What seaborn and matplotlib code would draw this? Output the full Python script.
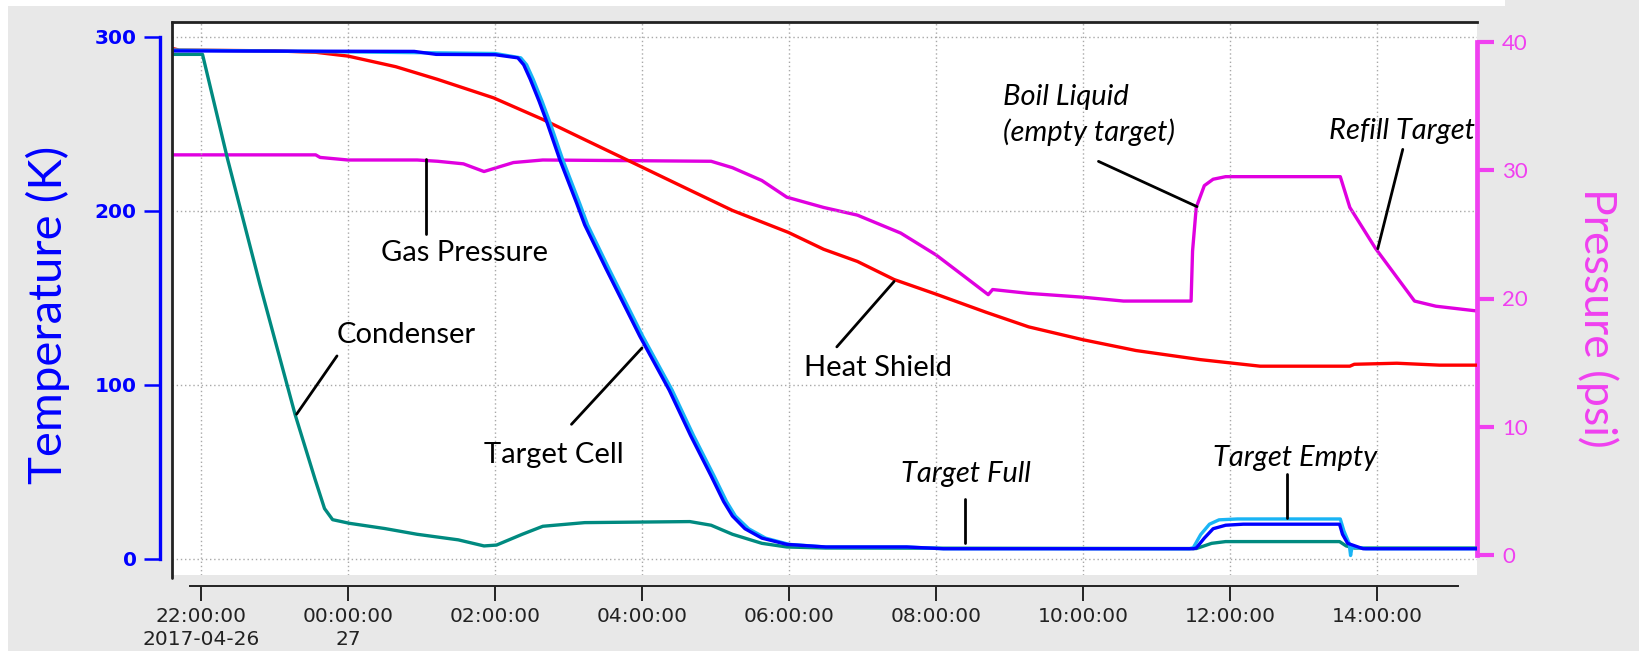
import numpy as np
import pandas as pd
import matplotlib
matplotlib.use("Agg")
import matplotlib.pyplot as plt
import matplotlib.dates as mdates
from matplotlib.patches import Rectangle
import seaborn as sns

# ---------------- data (hours after 2017-04-26 22:00) ----------------
START = pd.Timestamp("2017-04-26 22:00:00")

# Target cell (primary sensor, dark blue)
tc_h = [-0.40, 2.9, 3.2, 4.0, 4.31, 4.39, 4.48, 4.6, 4.71, 4.88, 5.11, 5.22, 5.51, 5.97, 6.37, 6.66,
        6.94, 7.11, 7.23, 7.4, 7.63, 7.97, 8.5, 9.6, 10.1, 13.5, 13.54, 13.65, 13.77, 13.94, 14.18,
        15.49, 15.53, 15.6, 15.81, 17.4]
tc_T = [292, 291.7, 290, 289.8, 288, 284, 275.6, 263, 250.5, 229.6, 204.5, 192, 166.8, 128, 97, 71,
        47.7, 33, 24.7, 17.4, 12, 8.4, 6.9, 6.9, 5.9, 5.9, 6.3, 12, 17.4, 19.4, 20,
        20, 14.2, 9, 5.9, 5.9]

# Target cell (second sensor, light blue)
lb_h = [-0.40, 4.0, 4.35, 4.43, 4.52, 4.64, 4.75, 4.92, 5.15, 5.26, 5.55, 6.01, 6.41, 6.70, 6.98,
        7.15, 7.27, 7.45, 7.68, 8.0, 8.5, 9.6, 10.1, 13.45, 13.5, 13.6, 13.72, 13.85, 14.1, 15.5,
        15.55, 15.62, 15.64, 15.66, 15.85, 17.4]
lb_T = [292.5, 290.5, 288, 284, 275.6, 263, 250.5, 229.6, 204.5, 192, 166.8, 128, 97, 71, 47.7,
        33, 24.7, 17.4, 12, 8.4, 6.9, 6.9, 5.9, 5.9, 6.5, 14, 20, 22.5, 23, 23,
        16, 9, 2, 7, 5.9, 5.9]

# Condenser (teal)
cd_h = [-0.40, 0.02, 0.36, 0.8, 1.28, 1.55, 1.68, 1.79, 2.02, 2.5, 2.94, 3.5, 3.85, 4.02, 4.37,
        4.65, 5.22, 6.65, 6.94, 7.23, 7.63, 7.97, 8.5, 13.54, 13.75, 13.94, 15.49, 15.58, 15.69, 17.4]
cd_T = [290, 290, 230, 158, 83, 46, 29, 22.6, 20.5, 17.5, 14.2, 11, 7.5, 8, 14.2,
        18.8, 20.9, 21.5, 19.4, 14.2, 9, 6.9, 6.3, 6, 9, 10, 10, 7.5, 6.3, 6.3]

# Heat shield (red)
hs_h = [-0.40, -0.3, 1.0, 1.56, 2.0, 2.65, 3.22, 3.98, 4.65, 5.22, 5.99, 6.66, 7.23, 7.99, 8.47,
        8.93, 9.43, 10.0, 10.68, 11.26, 12.0, 12.72, 13.59, 14.41, 15.63, 15.69, 16.27, 16.85, 17.4]
hs_T = [293.5, 292.5, 292, 291.2, 289, 282.9, 275.6, 265, 252.6, 241, 225.4, 211.8, 200.3, 187.7, 178,
        171, 160.6, 152.2, 141.8, 133.4, 126, 119.8, 114.6, 110.8, 110.8, 111.9, 112.5, 111.4, 111.4]

# Gas pressure (magenta, psi)
gp_h = [-0.40, 1.56, 1.62, 2.0, 2.94, 3.22, 3.57, 3.85, 4.02, 4.25, 4.65, 6.94, 7.23, 7.63, 7.97,
        8.47, 8.93, 9.52, 10.0, 10.39, 10.71, 10.77, 11.26, 12.0, 12.55, 13.47, 13.49, 13.54, 13.65,
        13.77, 13.94, 15.5, 15.63, 15.98, 16.51, 16.8, 17.4]
gp_P = [31.2, 31.2, 31.0, 30.8, 30.8, 30.7, 30.5, 29.9, 30.2, 30.6, 30.8, 30.7, 30.2, 29.2, 27.9,
        27.1, 26.5, 25.1, 23.4, 21.7, 20.3, 20.7, 20.4, 20.1, 19.8, 19.8, 23.7, 27.1, 28.8,
        29.3, 29.5, 29.5, 27.1, 23.9, 19.8, 19.4, 19.0]

tick_hours = [0, 2, 4, 6, 8, 10, 12, 14, 16]
tick_labels = ["22:00:00\n2017-04-26", "00:00:00\n27", "02:00:00", "04:00:00", "06:00:00",
               "08:00:00", "10:00:00", "12:00:00", "14:00:00"]
temp_ticks = [0, 100, 200, 300]
pres_ticks = [0, 10, 20, 30, 40]

# annotations: text, text hour, text temp, style, leader (h1, T1, h2, T2)
notes = [
    ("Gas Pressure", 3.59, 175.8, "normal", (3.06, 229.6, 3.06, 186.7)),
    ("Condenser", 2.79, 128.7, "normal", (1.85, 116.7, 1.30, 83.2)),
    ("Target Cell", 4.80, 59.7, "normal", (5.04, 77.4, 6.0, 121.3)),
    ("Heat Shield", 9.21, 109.7, "normal", (9.43, 159.5, 8.65, 121.9)),
    ("Refill Target", 16.34, 245.9, "italic", (16.35, 235.4, 16.01, 178.3)),
    ("Target Full", 10.41, 48.8, "italic", (10.39, 34.7, 10.39, 9.0)),
    ("Target Empty", 14.88, 58.0, "italic", (14.78, 48.7, 14.78, 23.6)),
]
boil_text = "Boil Liquid\n(empty target)"
boil_pos = (10.91, 255.0)
boil_leader = (12.21, 228.5, 13.55, 202.5)


def t(h):
    return START + pd.to_timedelta(np.asarray(h, dtype=float), unit="h")


def tn(h):
    return mdates.date2num(START.to_pydatetime()) + h / 24.0


# ---------------- figure ----------------
sns.set_theme(style="white")
plt.rcParams['font.family'] = ['Lato', 'DejaVu Sans']

W, H = 1639, 651
fig = plt.figure(figsize=(W / 100, H / 100), dpi=100, facecolor='#e8e8e8')
fig.add_artist(Rectangle((0, 1 - 6 / H), 1505 / W, 6 / H, transform=fig.transFigure,
                         facecolor='white', edgecolor='none'))
fig.add_artist(Rectangle((0, 0), 8 / W, 1, transform=fig.transFigure,
                         facecolor='white', edgecolor='none'))

ax = fig.add_axes([172 / W, 76 / H, 1305 / W, 553 / H])
ax2 = ax.twinx()
ax2.set_zorder(ax.get_zorder() - 1)
ax.patch.set_visible(False)
ax2.patch.set_visible(True)
ax2.patch.set_facecolor('white')

LW = 2.4
sns.lineplot(x=t(gp_h), y=gp_P, ax=ax2, color='#e000e0', linewidth=LW, estimator=None)
sns.lineplot(x=t(hs_h), y=hs_T, ax=ax, color='#ff0000', linewidth=LW, estimator=None)
sns.lineplot(x=t(cd_h), y=cd_T, ax=ax, color='#008a80', linewidth=LW, estimator=None)
sns.lineplot(x=t(lb_h), y=lb_T, ax=ax, color='#19b4f5', linewidth=LW, estimator=None)
sns.lineplot(x=t(tc_h), y=tc_T, ax=ax, color='#0000ff', linewidth=LW, estimator=None)

# limits
ax.set_xlim(tn(-0.395), tn(17.36))
ax.set_ylim(-9.2, 308.6)
ax2.set_ylim(-1.56, 41.56)

# grid
ax.set_xticks([tn(h) for h in tick_hours])
ax.set_xticklabels(tick_labels)
ax.set_yticks(temp_ticks)
ax.grid(True, linestyle=(0, (1, 2)), color='#a8a8a8', linewidth=1.0)

# spines
ax.spines['right'].set_visible(False)
ax.spines['top'].set_color('#222222')
ax.spines['top'].set_linewidth(2.0)
ax.spines['left'].set_position(('outward', 9))
ax.spines['left'].set_bounds(0, 300)
ax.spines['left'].set_color('#0000ff')
ax.spines['left'].set_linewidth(2.4)
ax.spines['bottom'].set_position(('outward', 8))
ax.spines['bottom'].set_bounds(tn(-0.15), tn(17.10))
ax.spines['bottom'].set_color('#222222')
ax.spines['bottom'].set_linewidth(1.4)
for s in ['left', 'top', 'bottom']:
    ax2.spines[s].set_visible(False)
ax2.spines['right'].set_color('#f040f0')
ax2.spines['right'].set_linewidth(3.4)
ax2.spines['right'].set_bounds(0, 40)

# black plot frame (left edge)
ax.plot([0, 0], [-0.006, 1], transform=ax.transAxes, color='#222222', lw=2.0,
        clip_on=False, zorder=5)

# ticks
ax.tick_params(axis='y', which='major', left=True, length=11.5, width=1.8, color='#0000ff',
               labelcolor='#0000ff', labelsize=14.5, pad=5)
for lab in ax.get_yticklabels():
    lab.set_fontfamily('DejaVu Sans')
    lab.set_fontweight('bold')
ax.tick_params(axis='x', which='major', bottom=True, length=11, width=1.4, color='#222222',
               labelcolor='#222222', labelsize=14.5, pad=4)
for lab in ax.get_xticklabels():
    lab.set_fontfamily('DejaVu Sans')
    lab.set_linespacing(1.3)

ax2.set_yticks(pres_ticks)
ax2.tick_params(axis='y', which='major', right=True, length=12, width=3.0, color='#f040f0',
                labelcolor='#f040f0', labelsize=16, pad=6)
ax2.grid(False)
ax.set_xlabel('')
ax.set_ylabel('')
ax2.set_ylabel('')

# axis titles
fig.text(48 / W, 1 - 315 / H, "Temperature (K)", rotation=90, ha='center', va='center',
         color='#0000ff', fontsize=34)
fig.text(1597 / W, 1 - 318 / H, "Pressure (psi)", rotation=270, ha='center', va='center',
         color='#f040f0', fontsize=32)

# annotations
for txt, hx, ty, style, (h1, T1, h2, T2) in notes:
    ax.text(tn(hx), ty, txt, ha='center', va='center', fontsize=21, style=style,
            color='black', zorder=6)
    ax.plot([tn(h1), tn(h2)], [T1, T2], color='black', lw=2.0, zorder=6)
ax.text(tn(boil_pos[0]), boil_pos[1], boil_text, ha='left', va='center', fontsize=21,
        style='italic', color='black', linespacing=1.35, zorder=6)
ax.plot([tn(boil_leader[0]), tn(boil_leader[2])], [boil_leader[1], boil_leader[3]],
        color='black', lw=2.0, zorder=6)

fig.savefig("out.png", dpi=100, facecolor=fig.get_facecolor())
